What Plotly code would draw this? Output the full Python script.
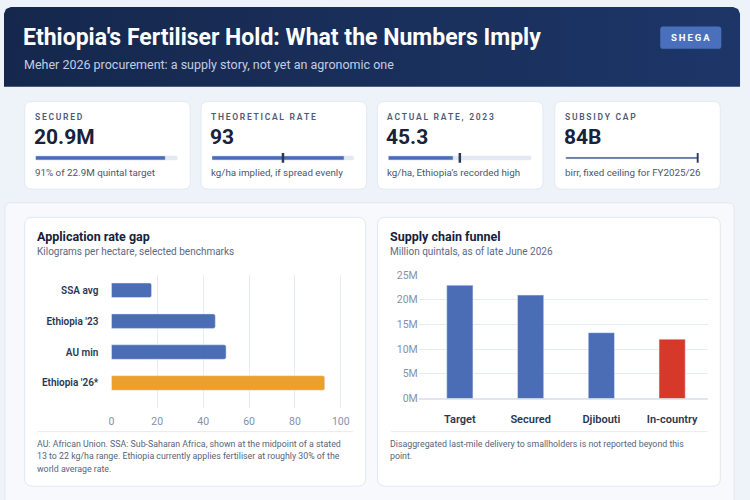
import plotly.graph_objects as go

W, H = 750, 500

# ---------------- data ----------------
kpi_labels = ["SECURED", "THEORETICAL RATE", "ACTUAL RATE, 2023", "SUBSIDY CAP"]
kpi_values = ["20.9M", "93", "45.3", "84B"]
kpi_captions = ["91% of 22.9M quintal target", "kg/ha implied, if spread evenly",
                "kg/ha, Ethiopia's recorded high", "birr, fixed ceiling for FY2025/26"]
secured_mq = 20.9
target_mq = 22.9
theoretical_rate = 93
actual_rate_2023 = 45.3
au_min_rate = 50
subsidy_cap_b = 84
kpi_fill = [secured_mq / target_mq * 100, theoretical_rate, actual_rate_2023,
            subsidy_cap_b / subsidy_cap_b * 100]
kpi_marker = [None, au_min_rate, au_min_rate, 100]

rate_categories = ["SSA avg", "Ethiopia '23", "AU min", "Ethiopia '26*"]
rate_values = [17.5, 45.3, 50, 93]
rate_ticks = [0, 20, 40, 60, 80, 100]

funnel_categories = ["Target", "Secured", "Djibouti", "In-country"]
funnel_values = [22.9, 20.9, 13.3, 12.0]
funnel_ticks = [0, 5, 10, 15, 20, 25]
funnel_tick_labels = ["0M", "5M", "10M", "15M", "20M", "25M"]

# ---------------- style ----------------
FONT = "Roboto"
BLUE = "#4a6db5"
ORANGE = "#eb9f2c"
RED = "#d6382a"
DARK = "#17223b"
MUTED = "#5b6983"
TICK = "#8491ab"
GRID = "#e7ebf2"


def X(px):
    return px / W


def Y(py):
    return 1 - py / H


def rrect(x0, y0, x1, y1, r, top_only=False):
    rb = 0 if top_only else r
    pts = [
        f"M{X(x0 + r)},{Y(y0)}",
        f"L{X(x1 - r)},{Y(y0)}",
        f"Q{X(x1)},{Y(y0)} {X(x1)},{Y(y0 + r)}",
        f"L{X(x1)},{Y(y1 - rb)}",
        f"Q{X(x1)},{Y(y1)} {X(x1 - rb)},{Y(y1)}",
        f"L{X(x0 + rb)},{Y(y1)}",
        f"Q{X(x0)},{Y(y1)} {X(x0)},{Y(y1 - rb)}",
        f"L{X(x0)},{Y(y0 + r)}",
        f"Q{X(x0)},{Y(y0)} {X(x0 + r)},{Y(y0)}",
        "Z",
    ]
    return " ".join(pts)


shapes = []
annotations = []


def add_rect(x0, y0, x1, y1, r, fill, line=None, top_only=False, layer="below"):
    shapes.append(dict(type="path", path=rrect(x0, y0, x1, y1, r, top_only),
                       xref="paper", yref="paper", fillcolor=fill,
                       line=dict(color=line or fill, width=1 if line else 0),
                       layer=layer))


def add_line(x0, y0, x1, y1, color, width=1, layer="below"):
    shapes.append(dict(type="line", x0=X(x0), x1=X(x1), y0=Y(y0), y1=Y(y1),
                       xref="paper", yref="paper", line=dict(color=color, width=width),
                       layer=layer))


def add_text(txt, x, y, size, color, weight=400, xanchor="left", family=FONT):
    annotations.append(dict(text=txt, x=X(x), y=Y(y), xref="paper", yref="paper",
                            xanchor=xanchor, yanchor="middle", showarrow=False, borderpad=0,
                            font=dict(family=family, size=size, color=color, weight=weight)))


def spaced(s):
    return "\u2009".join(list(s))


fig = go.Figure()

# header background with horizontal gradient (drawn on a full-page pixel axis)
hx0, hy0, hx1, hy1, hr = 1, 1, 748, 83, 7
hx = [hx0 + hr, hx1 - hr, hx1 - hr * 0.29, hx1, hx1, hx0, hx0, hx0 + hr * 0.29, hx0 + hr]
hy = [hy0, hy0, hy0 + hr * 0.29, hy0 + hr, hy1, hy1, hy0 + hr, hy0 + hr * 0.29, hy0]
fig.add_trace(go.Scatter(x=hx, y=hy, mode="lines", fill="toself", line=dict(width=0),
                         fillgradient=dict(type="horizontal",
                                           colorscale=[[0, "#15274c"], [1, "#1d3668"]]),
                         xaxis="x7", yaxis="y7", hoverinfo="skip", showlegend=False))

add_text("Ethiopia's Fertiliser Hold: What the Numbers Imply", 19, 32.5, 23, "#ffffff", 700)
add_text("Meher 2026 procurement: a supply story, not yet an agronomic one", 20, 60, 12.5, "#c3cde3")
add_rect(667, 21, 729, 44, 3, "#4a70bd", layer="above")
add_text(spaced("SHEGA"), 698, 32.5, 9.5, "#ffffff", 700, xanchor="center")

# lower panel
add_rect(2, 202, 742, 520, 6, "#f7f9fd", "#e3e8f1")

# KPI cards
card_x = [22, 201, 380, 560]
card_w = 168
track_len = [156, 156, 157, 146]
for i in range(4):
    x0 = card_x[i]
    add_rect(x0, 98, x0 + card_w, 188, 7, "#ffffff", "#e4e9f1")
    add_text(spaced(kpi_labels[i]), x0 + 9, 114, 8.5, "#4c5a74", 600)
    add_text(kpi_values[i], x0 + 8, 134.5, 21, DARK, 700)
    add_text(kpi_captions[i], x0 + 9, 171, 9.8, "#4a5670")

    tx0, tx1 = x0 + 11, x0 + track_len[i]
    ax = 3 + i
    fig.update_layout(**{
        f"xaxis{ax}": dict(domain=[X(tx0), X(tx1)], range=[0, 100.5], visible=False,
                           fixedrange=True, anchor=f"y{ax}"),
        f"yaxis{ax}": dict(domain=[Y(161), Y(151)], range=[-0.5, 0.5], visible=False,
                           fixedrange=True, anchor=f"x{ax}"),
    })
    if i < 3:
        fig.add_trace(go.Bar(x=[100], y=[0], orientation="h", width=0.42,
                             marker=dict(color="#e4e9f3", cornerradius=2),
                             xaxis=f"x{ax}", yaxis=f"y{ax}", hoverinfo="skip", showlegend=False))
        fig.add_trace(go.Bar(x=[kpi_fill[i]], y=[0], orientation="h", width=0.42,
                             marker=dict(color=BLUE, cornerradius=2),
                             xaxis=f"x{ax}", yaxis=f"y{ax}", hoverinfo="skip", showlegend=False))
    else:
        fig.add_trace(go.Bar(x=[kpi_fill[i]], y=[0], orientation="h", width=0.2,
                             marker=dict(color="#4a5f8e"),
                             xaxis=f"x{ax}", yaxis=f"y{ax}", hoverinfo="skip", showlegend=False))
    if kpi_marker[i] is not None:
        fig.add_trace(go.Scatter(x=[kpi_marker[i]], y=[0], mode="markers",
                                 marker=dict(symbol="line-ns", size=8,
                                             line=dict(color="#2c3a5a", width=2.5)),
                                 xaxis=f"x{ax}", yaxis=f"y{ax}", hoverinfo="skip", showlegend=False))

# chart cards
add_rect(22, 217, 368, 493, 8, "#ffffff", "#e2e7ef")
add_rect(380, 217, 728, 493, 8, "#ffffff", "#e2e7ef")

add_text("Application rate gap", 33, 237, 12.5, DARK, 700)
add_text("Kilograms per hectare, selected benchmarks", 33, 252, 10, MUTED)
add_text("Supply chain funnel", 392, 237, 12.5, DARK, 700)
add_text("Million quintals, as of late June 2026", 392, 252, 10, MUTED)

add_line(35, 437, 355, 437, "#e6eaf1")
add_line(394, 437, 715, 437, "#e6eaf1")

left_notes = ["AU: African Union. SSA: Sub-Saharan Africa, shown at the midpoint of a stated",
              "13 to 22 kg/ha range. Ethiopia currently applies fertiliser at roughly 30% of the",
              "world average rate."]
for k, t in enumerate(left_notes):
    add_text(t, 33, 450 + 12.5 * k, 8.8, "#56647d")
right_notes = ["Disaggregated last-mile delivery to smallholders is not reported beyond this",
               "point."]
for k, t in enumerate(right_notes):
    add_text(t, 392, 450 + 12.5 * k, 8.8, "#56647d")

# left chart
rate_colors = [BLUE, BLUE, BLUE, ORANGE]
fig.add_trace(go.Bar(x=rate_values, y=rate_categories, orientation="h",
                     marker=dict(color=rate_colors, cornerradius=2),
                     width=0.47, xaxis="x", yaxis="y", showlegend=False))

# right chart
funnel_colors = [BLUE, BLUE, BLUE, RED]
fig.add_trace(go.Bar(x=funnel_categories, y=funnel_values,
                     marker=dict(color=funnel_colors),
                     width=0.37, xaxis="x2", yaxis="y2", showlegend=False))

fig.update_layout(
    width=W, height=H, autosize=False,
    margin=dict(l=0, r=0, t=0, b=0),
    paper_bgcolor="#eef2f9", plot_bgcolor="rgba(0,0,0,0)",
    barmode="overlay",
    font=dict(family=FONT),
    shapes=shapes, annotations=annotations,
    xaxis=dict(domain=[X(110), X(344)], range=[0, 100.5], tickvals=rate_ticks,
               showgrid=True, gridcolor=GRID, zeroline=False, showline=False,
               ticks="outside", ticklen=3, tickcolor="rgba(0,0,0,0)",
               tickfont=dict(size=10.5, color=TICK), anchor="y", fixedrange=True),
    yaxis=dict(domain=[Y(413), Y(276)], type="category", range=[3.82, -0.5],
               showgrid=False, zeroline=False, showline=False,
               ticks="outside", ticklen=10, tickcolor="rgba(0,0,0,0)",
               tickfont=dict(size=10, color="#2b374f", weight=600), anchor="x", fixedrange=True),
    xaxis2=dict(domain=[X(422), X(715)], type="category", range=[-0.58, 3.5],
                showgrid=False, zeroline=False,
                showline=False, ticks="outside", ticklen=10, tickcolor="rgba(0,0,0,0)",
                tickfont=dict(size=11, color="#2b374f", weight=600), anchor="y2", fixedrange=True),
    yaxis2=dict(domain=[Y(403), Y(276)], range=[0, 25], tickvals=funnel_ticks,
                ticktext=funnel_tick_labels,
                showgrid=True, gridcolor=GRID, zeroline=True, zerolinecolor="#e1e6ee",
                showline=False, tickfont=dict(size=10.5, color=TICK), anchor="x2", fixedrange=True),
    xaxis7=dict(domain=[0, 1], range=[0, W], visible=False, fixedrange=True, anchor="y7"),
    yaxis7=dict(domain=[0, 1], range=[H, 0], visible=False, fixedrange=True, anchor="x7"),
)

post = (
    "document.documentElement.style.margin='0';"
    "document.documentElement.style.overflow='hidden';"
    "document.body.style.margin='0';document.body.style.padding='0';"
    "document.body.style.overflow='hidden';"
    "var d=document.querySelector('.plotly-graph-div');"
    "d.style.position='fixed';d.style.left='0px';d.style.top='0px';"
)
fig.write_html("out.html", config={"displayModeBar": False}, post_script=post)
